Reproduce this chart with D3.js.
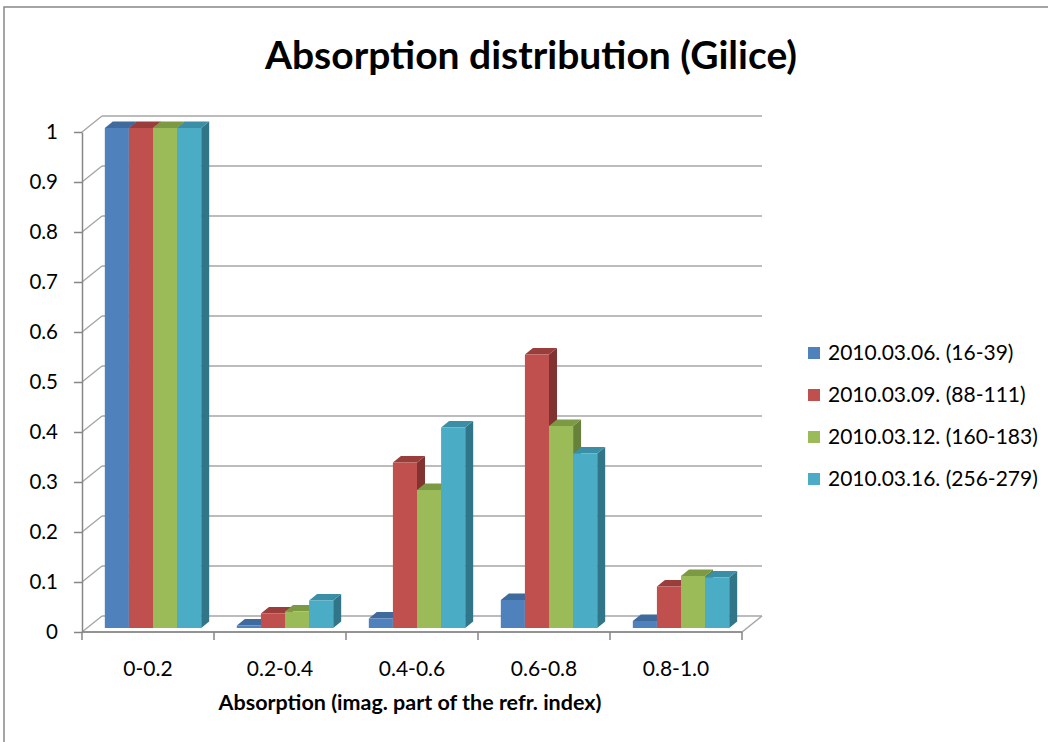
<!DOCTYPE html>
<html>
<head>
<meta charset="utf-8">
<script src="https://cdn.jsdelivr.net/npm/d3@7"></script>
<style>
  html, body { margin: 0; padding: 0; background: #fff; }
  svg { display: block; font-family: Lato, "Open Sans", sans-serif; }
</style>
</head>
<body>
<svg id="chart" width="1048" height="742"></svg>
<script>
// Absorption distribution data
const categories = ["0-0.2", "0.2-0.4", "0.4-0.6", "0.6-0.8", "0.8-1.0"];
const seriesNames = ["2010.03.06. (16-39)", "2010.03.09. (88-111)", "2010.03.12. (160-183)", "2010.03.16. (256-279)"];
const s1 = [1.0, 0.005, 0.019, 0.056, 0.014];
const s2 = [1.0, 0.029, 0.331, 0.547, 0.083];
const s3 = [1.0, 0.033, 0.276, 0.404, 0.104];
const s4 = [1.0, 0.055, 0.401, 0.349, 0.101];
const seriesValues = [s1, s2, s3, s4];
const yTickValues = [0, 0.1, 0.2, 0.3, 0.4, 0.5, 0.6, 0.7, 0.8, 0.9, 1];
const yTickLabels = ["0", "0.1", "0.2", "0.3", "0.4", "0.5", "0.6", "0.7", "0.8", "0.9", "1"];

const front = ["#4F81BD", "#C0504D", "#9BBB59", "#4BACC6"];
const top_ = ["#3F6A9E", "#9A3E3C", "#7C9A44", "#3A8FA6"];
const side = ["#365A86", "#813331", "#68813A", "#307588"];

const svg = d3.select("#chart");

// chart frame
svg.append("rect").attr("x", 4).attr("y", 7).attr("width", 1100).attr("height", 800)
  .attr("fill", "none").attr("stroke", "#868686").attr("stroke-width", 1.5);

// plot geometry (front plane) and oblique depth offset
const left = 82, right = 742, bottom = 632, topY = 132;
const DX = 20, DY = -16;

const x0 = d3.scaleBand().domain(categories).range([left, right])
  .paddingInner(0.27).paddingOuter(0.135);
const x1 = d3.scaleBand().domain(d3.range(seriesNames.length)).range([0, x0.bandwidth()]);
const y = d3.scaleLinear().domain([0, 1]).range([bottom, topY]);

const grid = svg.append("g");
// back-wall gridlines and left-wall diagonals
yTickValues.forEach(v => {
  grid.append("line")
    .attr("x1", left + DX).attr("x2", right + DX)
    .attr("y1", y(v) + DY).attr("y2", y(v) + DY)
    .attr("stroke", "#A6A6A6").attr("stroke-width", 1.5);
  grid.append("line")
    .attr("x1", left).attr("y1", y(v))
    .attr("x2", left + DX).attr("y2", y(v) + DY)
    .attr("stroke", "#A6A6A6").attr("stroke-width", 1.5);
});
// floor outline
grid.append("path")
  .attr("d", `M${left},${bottom} L${right},${bottom} L${right + DX},${bottom + DY}`)
  .attr("fill", "none").attr("stroke", "#A6A6A6").attr("stroke-width", 1.5);

// 3D bars
const f1 = 0.25, f2 = 0.65; // bar front and back depth fractions
const bars = svg.append("g");
categories.forEach((c, ci) => {
  seriesValues.forEach((vals, si) => {
    const v = vals[ci];
    const xl = x0(c) + x1(si) + DX * f1;
    const xr = xl + x1.bandwidth();
    const yb = y(0) + DY * f1;
    const yt = y(v) + DY * f1;
    const ddx = DX * (f2 - f1), ddy = DY * (f2 - f1);
    const g = bars.append("g");
    // right side face
    g.append("path")
      .attr("d", `M${xr},${yb} L${xr + ddx},${yb + ddy} L${xr + ddx},${yt + ddy} L${xr},${yt} Z`)
      .attr("fill", side[si]);
    // top face
    g.append("path")
      .attr("d", `M${xl},${yt} L${xl + ddx},${yt + ddy} L${xr + ddx},${yt + ddy} L${xr},${yt} Z`)
      .attr("fill", top_[si]);
    // front face
    g.append("rect")
      .attr("x", xl).attr("y", yt)
      .attr("width", x1.bandwidth()).attr("height", Math.max(0, yb - yt))
      .attr("fill", front[si]);
  });
});

// y axis on the front plane
const yAxis = d3.axisLeft(y).tickValues(yTickValues)
  .tickFormat((d, i) => yTickLabels[i]).tickSize(8).tickSizeOuter(0).tickPadding(16);
const gy = svg.append("g").attr("transform", `translate(${left},0)`).call(yAxis);
gy.select(".domain").attr("stroke", "#868686").attr("stroke-width", 1.5);
gy.selectAll(".tick line").attr("stroke", "#868686").attr("stroke-width", 1.5);
gy.selectAll(".tick text").attr("font-size", 20.5).attr("fill", "#000")
  .attr("font-family", "Lato, 'Open Sans', sans-serif");

// x axis: category labels centred in each band
const xAxis = d3.axisBottom(x0).tickSize(0).tickPadding(29).tickSizeOuter(0);
const gx = svg.append("g").attr("transform", `translate(0,${bottom})`).call(xAxis);
gx.select(".domain").remove();
gx.selectAll(".tick text").attr("font-size", 21).attr("fill", "#000")
  .attr("font-family", "Lato, 'Open Sans', sans-serif");
// category boundary tick marks
const step = x0.step();
d3.range(categories.length + 1).forEach(i => {
  svg.append("line")
    .attr("x1", left + i * step).attr("x2", left + i * step)
    .attr("y1", bottom).attr("y2", bottom + 8)
    .attr("stroke", "#868686").attr("stroke-width", 1.5);
});
svg.append("line").attr("x1", left).attr("x2", right).attr("y1", bottom).attr("y2", bottom)
  .attr("stroke", "#868686").attr("stroke-width", 1.5);

// titles
svg.append("text").attr("x", 531).attr("y", 69).attr("text-anchor", "middle")
  .attr("font-size", 39).attr("font-weight", "bold").attr("fill", "#000")
  .text("Absorption distribution (Gilice)");
svg.append("text").attr("x", 410).attr("y", 710).attr("text-anchor", "middle")
  .attr("font-size", 21.5).attr("font-weight", "bold").attr("fill", "#000")
  .text("Absorption (imag. part of the refr. index)");

// legend
const legend = svg.append("g");
seriesNames.forEach((name, i) => {
  const cy = 353 + i * 42;
  legend.append("rect").attr("x", 808).attr("y", cy - 6).attr("width", 12).attr("height", 12)
    .attr("fill", front[i]);
  legend.append("text").attr("x", 828).attr("y", cy).attr("dy", "0.35em")
    .attr("font-size", 21).attr("fill", "#000").text(name);
});
</script>
</body>
</html>
